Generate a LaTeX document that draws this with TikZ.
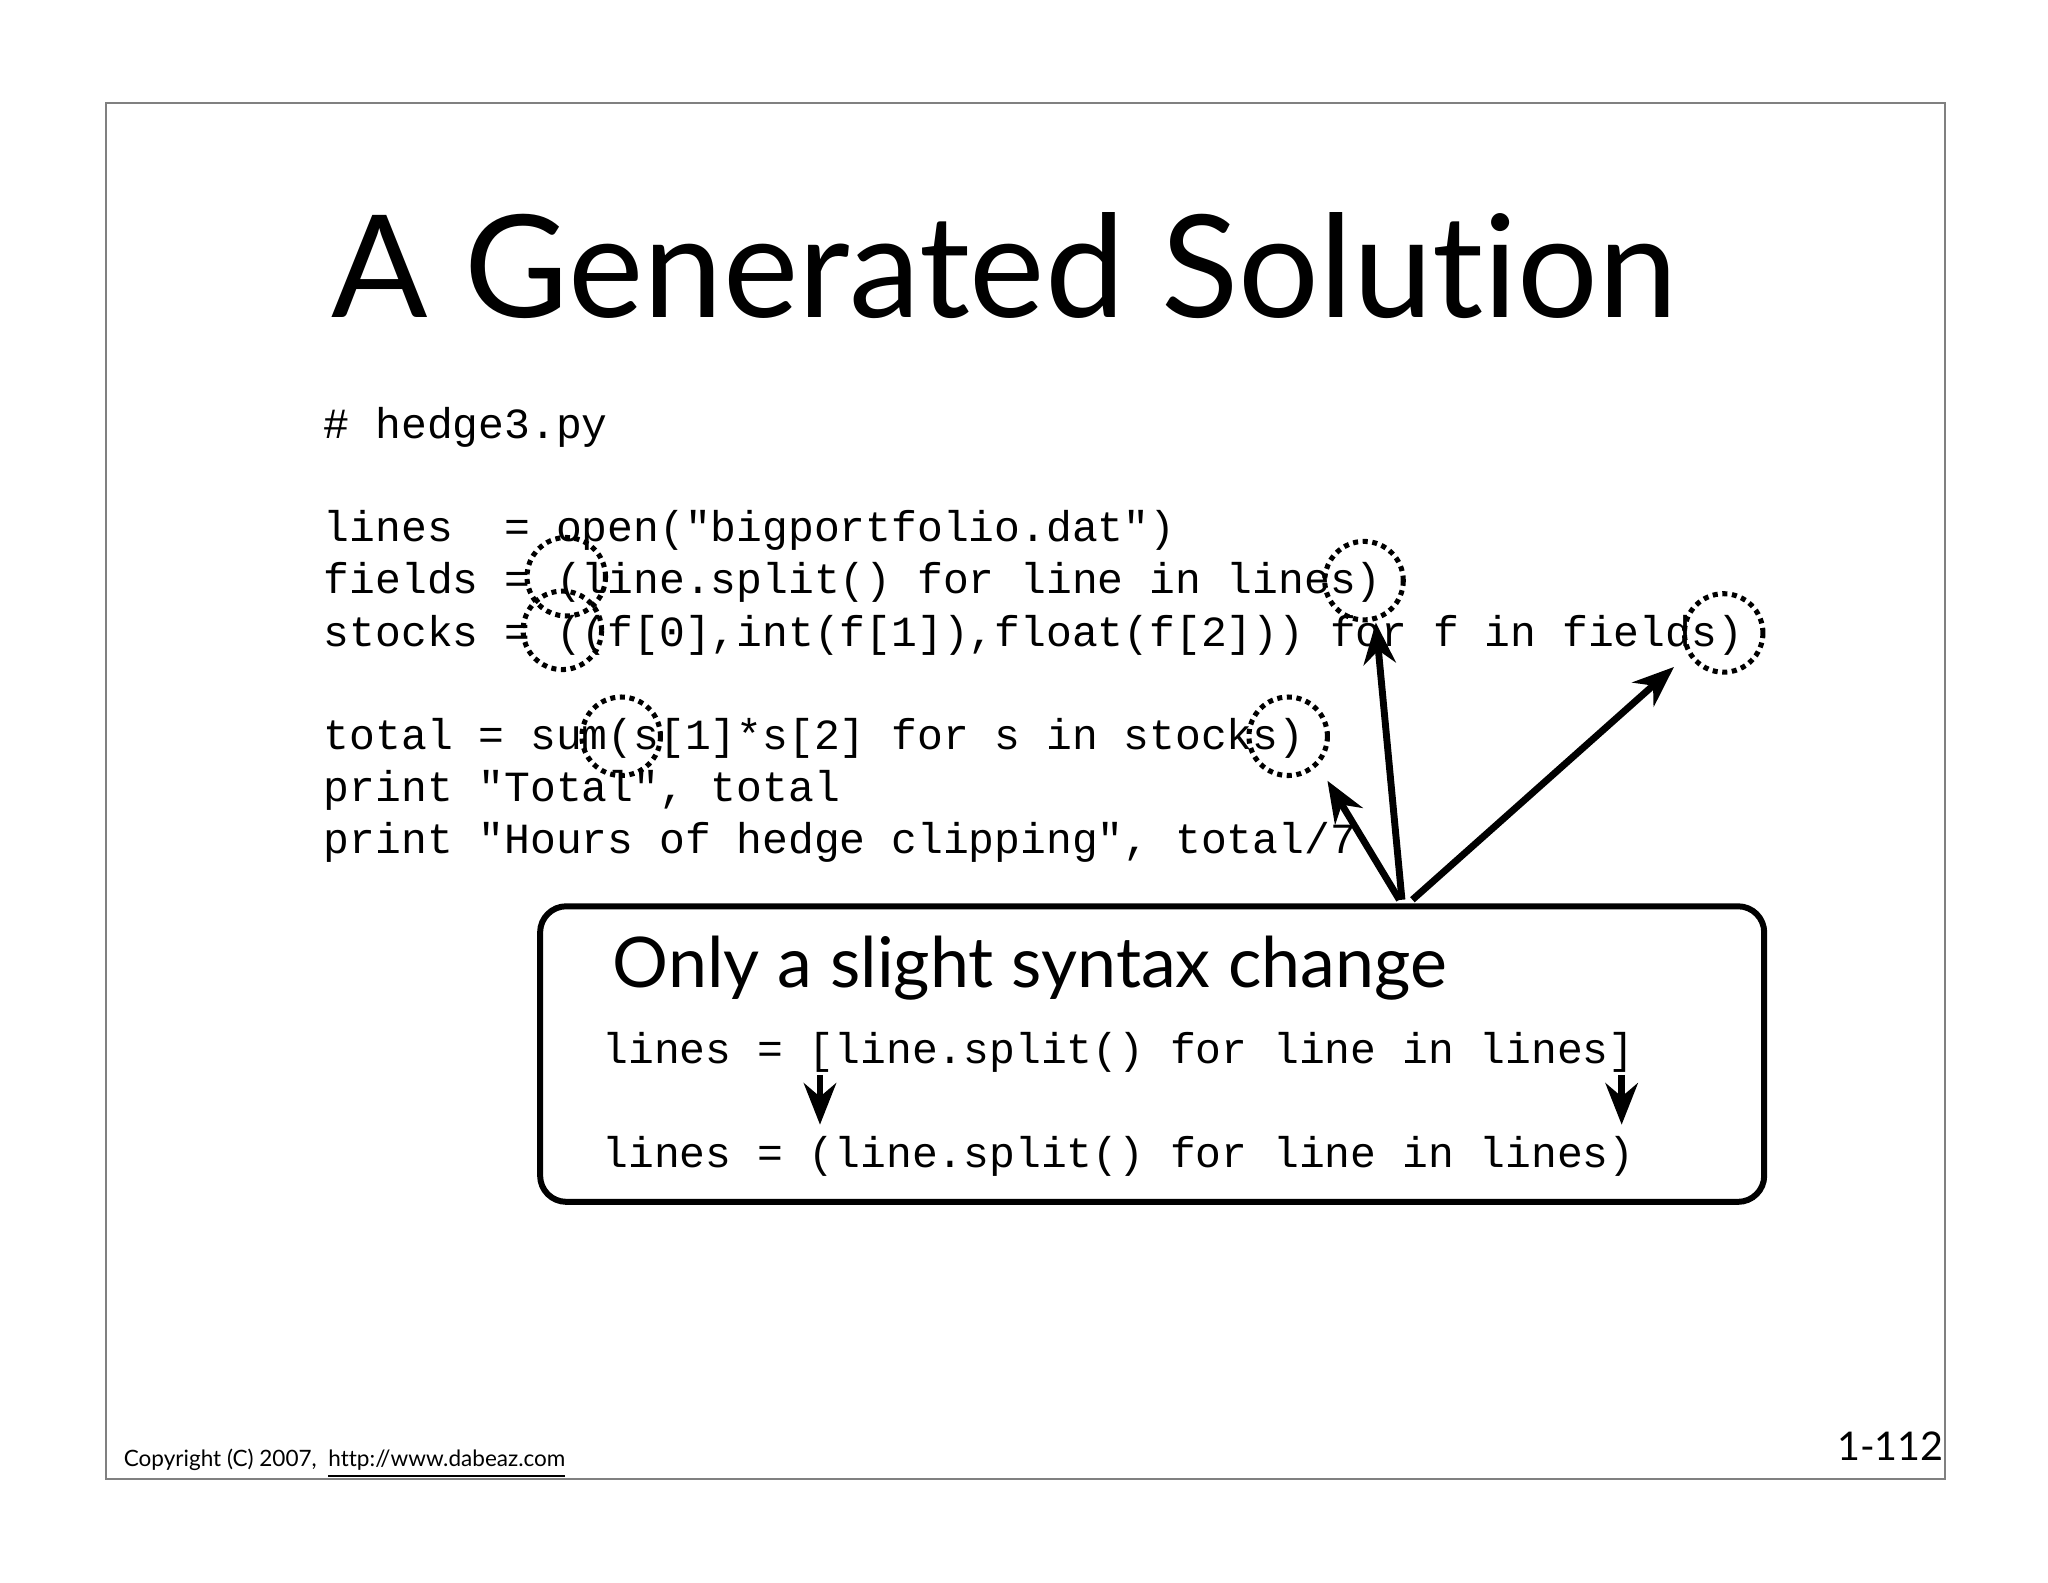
\documentclass[tikz,border=0pt]{standalone}
\usepackage{fontspec}
\setmainfont{Lato}[Ligatures={NoCommon,NoRequired,NoContextual}]
\setmonofont{Liberation Mono}
\usetikzlibrary{arrows.meta}
\begin{document}
\begin{tikzpicture}[x=0.01cm,y=-0.01cm,
  code/.style={anchor=base west,inner sep=0,font=\fontsize{9.35pt}{11pt}\ttfamily},
  circ/.style={draw,densely dotted,line width=1.1pt,circle,minimum size=0.6cm,inner sep=0},
  arr/.style={-{Stealth[length=9pt,width=7pt]},line width=1.5pt}]
\useasboundingbox (0,0) rectangle (1566,1210);
\draw[line width=0.5pt,gray] (81,79) rectangle (1487,1131);
\node[anchor=base west,inner sep=0,font=\fontsize{31pt}{34pt}\selectfont] (title) at (253,243) {A Generated Solution};
\node[code] (l1) at (247,335) {\# hedge3.py};
\node[code] (l2) at (247,414) {lines~~= open("bigportfolio.dat")};
\node[code] (l3) at (247,454) {fields = (line.split() for line in lines)};
\node[code] (l4) at (247,494) {stocks = ((f[0],int(f[1]),float(f[2])) for f in fields)};
\node[code] (l5) at (247,573) {total = sum(s[1]*s[2] for s in stocks)};
\node[code] (l6) at (247,613) {print "Total", total};
\node[code] (l7) at (247,653) {print "Hours of hedge clipping", total/7};
\node[circ] (c1) at (433,441) {};
\node[circ] (c2) at (430,482) {};
\node[circ] (c3) at (1043,444) {};
\node[circ] (c4) at (1318,484) {};
\node[circ] (c5) at (475,563) {};
\node[circ] (c6) at (985,563) {};
\draw[line width=1.3pt,rounded corners=0.2cm] (413,693) rectangle (1349,919);
\node[anchor=base west,inner sep=0,font=\fontsize{15.2pt}{18pt}\selectfont] (hd) at (468,755) {Only a slight syntax change};
\node[code] (b1) at (460,813) {lines = [line.split() for line in lines]};
\node[code] (b2) at (460,893) {lines = (line.split() for line in lines)};
\coordinate (s1) at (1070,688); \coordinate (e1) at (1015,597);
\coordinate (s2) at (1072,688); \coordinate (e2) at (1052,476);
\coordinate (s3) at (1080,688); \coordinate (e3) at (1280,510);
\draw[arr] (s1) -- (e1);
\draw[arr] (s2) -- (e2);
\draw[arr] (s3) -- (e3);
\coordinate (a1) at (627,822); \coordinate (a1e) at (627,860);
\coordinate (a2) at (1240,822); \coordinate (a2e) at (1240,860);
\draw[arr] (a1) -- (a1e);
\draw[arr] (a2) -- (a2e);
\node[anchor=base west,inner sep=0,font=\fontsize{4.9pt}{5pt}\selectfont] (cp) at (94,1121) {Copyright (C) 2007,~ \underline{http://www.dabeaz.com}};
\node[anchor=base east,inner sep=0,font=\fontsize{8.6pt}{10pt}\selectfont] (pg) at (1487,1117) {1-112};
\end{tikzpicture}
\end{document}
